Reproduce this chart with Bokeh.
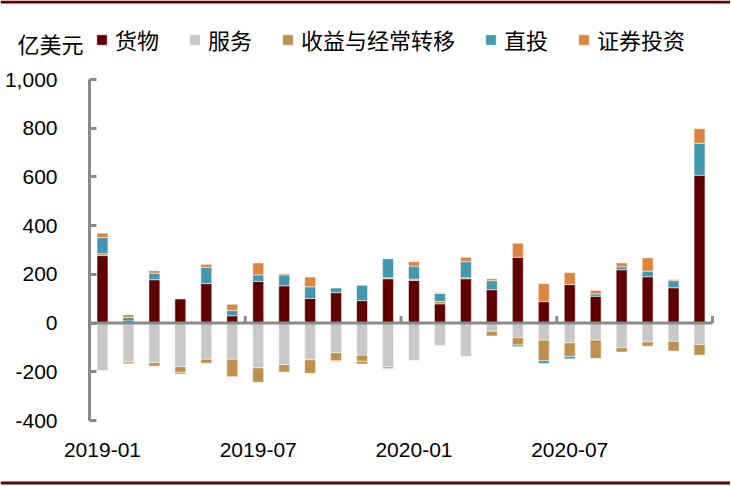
from bokeh.plotting import figure
from bokeh.models import (Range1d, FixedTicker, NumeralTickFormatter, Legend,
                          LegendItem, Label, BoxAnnotation)
from bokeh.embed import file_html
from bokeh.resources import INLINE

months = ["2019-01", "2019-02", "2019-03", "2019-04", "2019-05", "2019-06",
          "2019-07", "2019-08", "2019-09", "2019-10", "2019-11", "2019-12",
          "2020-01", "2020-02", "2020-03", "2020-04", "2020-05", "2020-06",
          "2020-07", "2020-08", "2020-09", "2020-10", "2020-11", "2020-12"]

goods = [277, 9, 178, 100, 162, 30, 171, 153, 101, 125, 92, 182,
         175, 79, 182, 137, 270, 88, 158, 110, 219, 190, 145, 607]
services = [-195, -160, -163, -179, -149, -149, -184, -171, -151, -122, -132, -180,
            -153, -92, -137, -34, -60, -70, -81, -70, -101, -77, -75, -88]
income = [8, -7, -14, -23, -16, -71, -59, -30, -55, -33, -25, 4,
          5, 10, 4, -19, -30, -85, -56, -75, -18, -18, -40, -44]
fdi = [66, 14, 27, 0, 67, 22, 27, 45, 48, 19, 63, 78,
       54, 33, 66, 37, -7, -11, -10, 10, 12, 23, 29, 131]
portfolio = [18, 11, 10, -7, 12, 25, 49, 4, 40, -3, -11, -7,
             18, 3, 18, 8, 58, 74, 49, 14, 16, 55, 5, 60]

series_names = ["货物", "服务", "收益与经常转移", "直投", "证券投资"]
series_colors = ["#600000", "#c8c8c8", "#bf8f4c", "#4298b0", "#dd843f"]
series_values = [goods, services, income, fdi, portfolio]
unit_label = "亿美元"
y_ticks = [-400, -200, 0, 200, 400, 600, 800, 1000]
Y_MIN, Y_MAX = -400, 1000

AXIS_GRAY = "#8a8a8a"
RED_LINE = "#600000"
CJK = "Noto Sans CJK SC"
W, H = 730, 485
# plot area (pixels inside the canvas)
AREA_L, AREA_R, AREA_T, AREA_B = 89, 712, 79, 420
n = len(months)
xs = list(range(1, n + 1))

x_ppu = (AREA_R - AREA_L) / n
y_ppu = (AREA_B - AREA_T) / (Y_MAX - Y_MIN)
x_range = Range1d(0.5 - AREA_L / x_ppu, n + 0.5 + (W - AREA_R) / x_ppu)
y_range = Range1d(Y_MIN - (H - AREA_B) / y_ppu, Y_MAX + AREA_T / y_ppu)

p = figure(width=W, height=H, output_backend="svg", toolbar_location=None,
           x_range=x_range, y_range=y_range,
           min_border_left=0, min_border_right=0, min_border_top=0,
           min_border_bottom=0)
p.outline_line_color = None
p.xgrid.visible = False
p.ygrid.visible = False

pos = [0.0] * n
neg = [0.0] * n
items = []
for name, vals, color in zip(series_names, series_values, series_colors):
    bottoms, tops = [], []
    for i, v in enumerate(vals):
        if v >= 0:
            bottoms.append(pos[i]); tops.append(pos[i] + v); pos[i] += v
        else:
            tops.append(neg[i]); bottoms.append(neg[i] + v); neg[i] += v
    r = p.vbar(x=xs, top=tops, bottom=bottoms, width=0.42, fill_color=color,
               line_color="white", line_alpha=0.5, line_width=1)
    items.append(LegendItem(label=name, renderers=[r]))

# zero line acting as category axis, with group ticks pointing up
p.segment(x0=[0.5], y0=[0], x1=[n + 0.5], y1=[0], line_color=AXIS_GRAY, line_width=3)
bounds = [i + 1.5 for i, m in enumerate(months) if m.endswith("-06") or m.endswith("-12")]
tick_len = 7 / y_ppu
p.segment(x0=bounds, y0=[0] * len(bounds), x1=bounds, y1=[tick_len] * len(bounds),
          line_color=AXIS_GRAY, line_width=3)

ya = p.yaxis[0]
ya.fixed_location = 0.5
ya.bounds = (Y_MIN, Y_MAX)
ya.ticker = FixedTicker(ticks=y_ticks)
ya.formatter = NumeralTickFormatter(format="0,0")
ya.axis_line_color = AXIS_GRAY
ya.axis_line_width = 3
ya.major_tick_line_color = AXIS_GRAY
ya.major_tick_line_width = 3
ya.major_tick_in = 7
ya.major_tick_out = 0
ya.minor_tick_line_color = None
ya.major_label_standoff = 32
ya.major_label_text_font = "Liberation Sans"
ya.major_label_text_font_size = "21px"
ya.major_label_text_color = "black"

xa = p.xaxis[0]
xa.fixed_location = Y_MIN
xa.ticker = FixedTicker(ticks=[i + 1 for i in range(0, n, 6)])
xa.major_label_overrides = {i + 1: months[i] for i in range(0, n, 6)}
xa.axis_line_color = None
xa.major_tick_line_color = None
xa.minor_tick_line_color = None
xa.major_tick_out = 0
xa.major_tick_in = 0
xa.major_label_standoff = 22
xa.major_label_text_font = "Liberation Sans"
xa.major_label_text_font_size = "21px"
xa.major_label_text_color = "black"

legend = Legend(items=items, orientation="horizontal", location=(95, H - 55),
                padding=0, margin=0, spacing=29, label_standoff=7,
                glyph_width=13, glyph_height=13, label_height=26,
                label_text_font=CJK, label_text_font_size="22px",
                label_text_color="black", border_line_color=None,
                background_fill_alpha=0)
p.add_layout(legend, "center")

p.add_layout(Label(x=17, y=H - 42, x_units="screen", y_units="screen", text=unit_label,
                   text_font=CJK, text_font_size="22px",
                   text_color="black", text_baseline="middle"))

p.add_layout(BoxAnnotation(bottom=H - 3, top=H, bottom_units="screen", top_units="screen",
                           fill_color=RED_LINE, fill_alpha=1, line_color=None))
p.add_layout(BoxAnnotation(bottom=1, top=4, bottom_units="screen", top_units="screen",
                           fill_color=RED_LINE, fill_alpha=1, line_color=None))

open("out.html", "w").write(file_html(p, INLINE))
